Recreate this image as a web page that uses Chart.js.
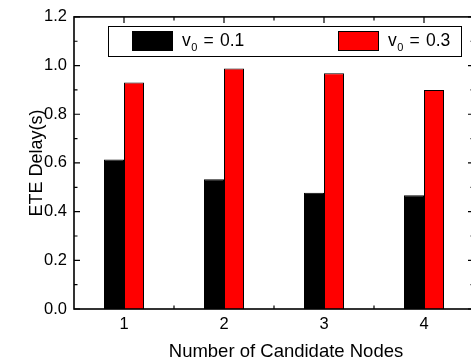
<!DOCTYPE html>
<html><head><meta charset="utf-8">
<script src="https://cdn.jsdelivr.net/npm/chart.js@4/dist/chart.umd.min.js"></script>
<style>html,body{margin:0;padding:0;background:#fff;overflow:hidden;width:471px;height:364px}#wrap{position:relative;width:480px;height:364px}</style>
</head><body><div id="wrap"><canvas id="c" width="480" height="364"></canvas></div>
<script>
const categories = ['1', '2', '3', '4'];
const seriesNames = ['v0 = 0.1', 'v0 = 0.3'];
const legendMain = ['v', 'v'];
const legendSub = ['0', '0'];
const legendValue = ['0.1', '0.3'];
const valuesV01 = [0.614, 0.533, 0.478, 0.467];
const valuesV03 = [0.931, 0.988, 0.968, 0.900];
const yTickValues = [0, 0.2, 0.4, 0.6, 0.8, 1.0, 1.2];
const xTitle = 'Number of Candidate Nodes';
const yTitle = 'ETE Delay(s)';
const FONT = "'Liberation Sans', Arial, sans-serif";

const framePlugin = {
  id: 'frame',
  afterDatasetsDraw(chart) {
    const ctx = chart.ctx;
    const a = chart.chartArea;
    const xs = chart.scales.x, ys = chart.scales.y;
    ctx.save();
    ctx.strokeStyle = '#000';
    ctx.lineWidth = 1.6;
    ctx.strokeRect(a.left, a.top, a.right - a.left, a.bottom - a.top);
    ctx.lineWidth = 1.2;
    ctx.beginPath();
    // y ticks
    yTickValues.forEach((v, i) => {
      const y = ys.getPixelForValue(v);
      ctx.moveTo(a.left, y); ctx.lineTo(a.left + 6, y);
      ctx.moveTo(a.right, y); ctx.lineTo(a.right - 6, y);
      if (i < yTickValues.length - 1) {
        const ym = ys.getPixelForValue((v + yTickValues[i + 1]) / 2);
        ctx.moveTo(a.left, ym); ctx.lineTo(a.left + 3.5, ym);
        ctx.moveTo(a.right, ym); ctx.lineTo(a.right - 3.5, ym);
      }
    });
    // x ticks
    categories.forEach((c, i) => {
      const x = xs.getPixelForValue(i);
      ctx.moveTo(x, a.top); ctx.lineTo(x, a.top + 6);
      ctx.moveTo(x, a.bottom); ctx.lineTo(x, a.bottom - 6);
      if (i < categories.length - 1) {
        const xm = (x + xs.getPixelForValue(i + 1)) / 2;
        ctx.moveTo(xm, a.top); ctx.lineTo(xm, a.top + 3.5);
        ctx.moveTo(xm, a.bottom); ctx.lineTo(xm, a.bottom - 3.5);
      }
    });
    ctx.stroke();

    // axis titles
    ctx.fillStyle = '#000';
    ctx.font = "18.5px " + FONT;
    ctx.textAlign = 'center';
    ctx.textBaseline = 'alphabetic';
    ctx.fillText(xTitle, 286, 357);
    ctx.save();
    ctx.translate(42, (a.top + a.bottom) / 2);
    ctx.rotate(-Math.PI / 2);
    ctx.font = "18px " + FONT;
    ctx.fillText(yTitle, 0, 0);
    ctx.restore();

    // legend
    ctx.fillStyle = '#fff';
    ctx.fillRect(108, 26, 354, 31);
    ctx.lineWidth = 1;
    ctx.strokeStyle = '#000';
    ctx.strokeRect(108.5, 26.5, 353, 30);
    const swX = [132, 338];
    chart.data.datasets.forEach((ds, i) => {
      ctx.fillStyle = ds.backgroundColor;
      ctx.fillRect(swX[i], 31, 41, 20);
      ctx.strokeStyle = '#000';
      ctx.strokeRect(swX[i] + 0.5, 31.5, 40, 19);
      const tx = swX[i] + 50;
      ctx.fillStyle = '#000';
      ctx.textAlign = 'left';
      ctx.font = "17.5px " + FONT;
      ctx.fillText(legendMain[i], tx, 46);
      ctx.font = "11px " + FONT;
      ctx.fillText(legendSub[i], tx + 9.3, 50.5);
      ctx.font = "17.5px " + FONT;
      ctx.fillText('=', tx + 21.5, 46);
      ctx.fillText(legendValue[i], tx + 38, 46);
    });
    ctx.restore();
  }
};

new Chart(document.getElementById('c'), {
  type: 'bar',
  data: {
    labels: categories,
    datasets: [
      {label: seriesNames[0], data: valuesV01, backgroundColor: '#000000', borderColor: '#000000', borderWidth: 1},
      {label: seriesNames[1], data: valuesV03, backgroundColor: '#ff0000', borderColor: '#000000', borderWidth: 1}
    ]
  },
  options: {
    responsive: false,
    animation: false,
    devicePixelRatio: 1,
    layout: {padding: {top: 13, right: 6, bottom: 0, left: 0}},
    plugins: {legend: {display: false}, tooltip: {enabled: false}},
    datasets: {bar: {categoryPercentage: 0.4, barPercentage: 1.0}},
    scales: {
      x: {
        grid: {display: false, drawTicks: false},
        border: {display: false},
        ticks: {color: '#000', font: {family: FONT, size: 16.5}, padding: 6},
        afterFit: s => { s.height = 55; }
      },
      y: {
        min: 0,
        max: 1.2,
        afterBuildTicks: s => { s.ticks = yTickValues.map(v => ({value: v})); },
        grid: {display: false, drawTicks: false},
        border: {display: false},
        ticks: {color: '#000', font: {family: FONT, size: 16.5}, padding: 7, callback: v => Number(v).toFixed(1)},
        afterFit: s => { s.width = 74; }
      }
    }
  },
  plugins: [framePlugin]
});
</script>
</body></html>
